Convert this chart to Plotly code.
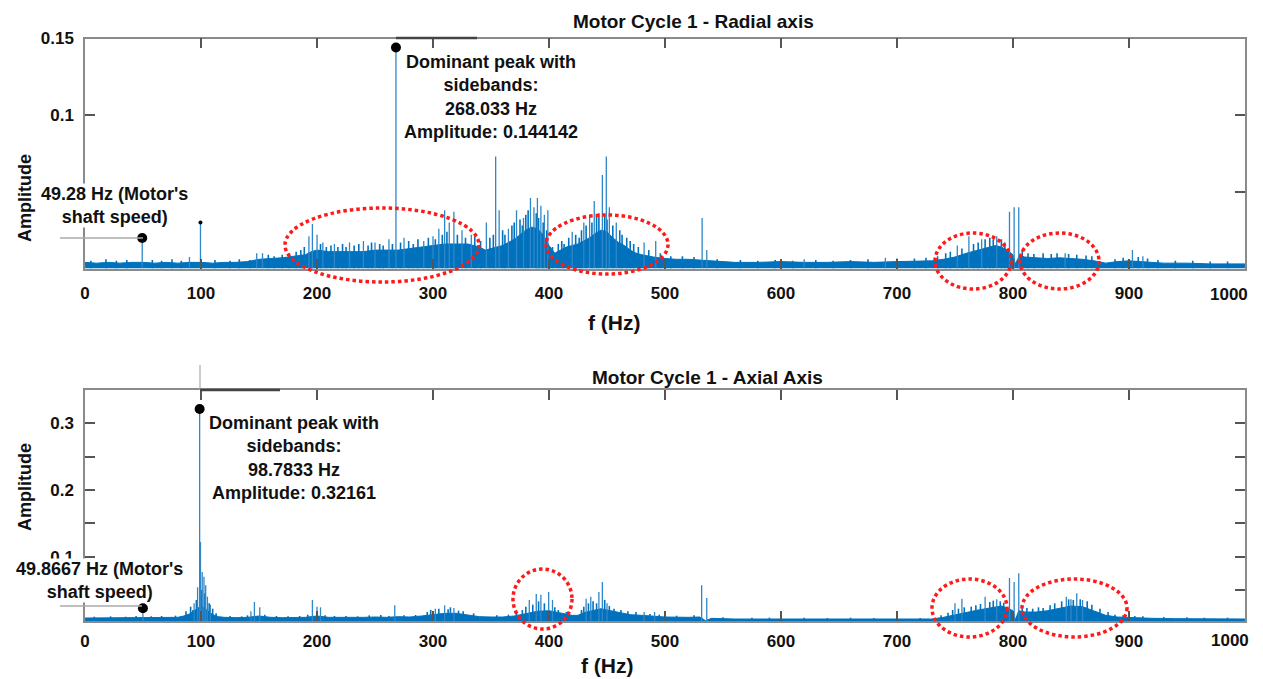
import plotly.graph_objects as go

W, H = 1263, 679
BLUE = "#0072BD"
FONT = "Liberation Sans"

# ---------------- Radial axis (top) ----------------
radial_band_f = [0, 10, 20, 30, 40, 50, 60, 70, 80, 90, 100, 110, 120, 130, 140, 150, 160, 170, 180, 190,
                 195, 200, 210, 220, 230, 240, 250, 260, 270, 280, 290, 300, 310, 320, 330, 340, 345, 350,
                 360, 365, 370, 375, 380, 385, 390, 395, 400, 405, 410, 415, 420, 425, 430, 435, 440, 445,
                 450, 455, 460, 465, 470, 475, 480, 490, 500, 510, 520, 530, 540, 550, 560, 580, 600, 620,
                 640, 660, 680, 700, 720, 730, 740, 750, 760, 770, 780, 785, 790, 795, 800, 802, 806, 810,
                 820, 830, 840, 850, 860, 870, 880, 890, 900, 910, 920, 930, 950, 970, 1000]
radial_band_amp = [0.004, 0.0035, 0.004, 0.0035, 0.004, 0.004, 0.0035, 0.004, 0.0035, 0.004, 0.004, 0.0035,
                   0.004, 0.004, 0.0045, 0.006, 0.0065, 0.007, 0.008, 0.009, 0.011, 0.012, 0.011, 0.011,
                   0.011, 0.011, 0.012, 0.012, 0.012, 0.013, 0.014, 0.015, 0.016, 0.016, 0.016, 0.014,
                   0.012, 0.013, 0.015, 0.017, 0.019, 0.022, 0.025, 0.027, 0.026, 0.022, 0.015, 0.010,
                   0.012, 0.014, 0.015, 0.016, 0.018, 0.020, 0.023, 0.025, 0.024, 0.020, 0.017, 0.015,
                   0.012, 0.010, 0.009, 0.0075, 0.0065, 0.006, 0.006, 0.0055, 0.005, 0.0045, 0.004, 0.004,
                   0.0045, 0.004, 0.004, 0.0045, 0.004, 0.0045, 0.005, 0.005, 0.006, 0.0075, 0.010, 0.012,
                   0.014, 0.015, 0.014, 0.012, 0.009, 0.003, 0.009, 0.0075, 0.007, 0.0065, 0.007, 0.0065,
                   0.006, 0.005, 0.0035, 0.0045, 0.005, 0.0045, 0.004, 0.0035, 0.0035, 0.003, 0.003]
radial_peak_f = [49.28, 90, 99.5, 148, 153, 193, 196, 200, 205, 215, 228, 240, 250, 262, 268.033, 275,
                 292, 300, 305, 310, 314, 318, 325, 333, 346, 354, 357, 365, 372, 378, 384, 387, 390, 393,
                 396, 399, 420, 430, 435, 439, 446, 449.4, 452, 458, 482, 492, 532, 536, 620, 690, 752,
                 762, 773, 786, 797, 801, 805, 845, 903, 912]
radial_peak_amp = [0.019, 0.0075, 0.030, 0.010, 0.010, 0.021, 0.029, 0.022, 0.017, 0.016, 0.017, 0.018,
                   0.017, 0.019, 0.144142, 0.020, 0.018, 0.021, 0.026, 0.038, 0.030, 0.037, 0.025, 0.022,
                   0.030, 0.073, 0.038, 0.026, 0.038, 0.033, 0.046, 0.040, 0.046, 0.041, 0.035, 0.038,
                   0.024, 0.030, 0.035, 0.044, 0.061, 0.073, 0.040, 0.030, 0.017, 0.018, 0.033, 0.012,
                   0.006, 0.007, 0.015, 0.021, 0.019, 0.021, 0.037, 0.040, 0.040, 0.010, 0.012, 0.008]
radial_minor_f = [5, 18, 27, 36, 58, 66, 75, 83, 112, 125, 133, 142, 158, 163, 170, 176, 182, 186, 189,
                  203, 208, 212, 218, 222, 225, 232, 236, 244, 247, 254, 257, 265, 272, 279, 283, 287, 296,
                  302, 308, 312, 321, 328, 336, 341, 349, 352, 360, 362, 368, 370, 375, 377, 380, 382, 389,
                  391, 395, 398, 403, 408, 411, 413, 417, 423, 426, 428, 432, 437, 441, 443, 448, 450, 455,
                  461, 463, 467, 470, 473, 477, 486, 496, 505, 515, 525, 545, 565, 580, 595, 610, 630, 645,
                  660, 675, 700, 715, 725, 735, 742, 746, 756, 766, 770, 776, 780, 783, 790, 793, 808, 813,
                  818, 826, 833, 838, 848, 855, 863, 868, 888, 895, 908, 916, 925, 940, 955, 970, 985]
radial_minor_amp = [0.005, 0.006, 0.005, 0.0055, 0.0055, 0.005, 0.006, 0.005, 0.0055, 0.005, 0.006, 0.0055,
                    0.009, 0.008, 0.009, 0.010, 0.011, 0.012, 0.014, 0.016, 0.014, 0.015, 0.014, 0.016,
                    0.014, 0.015, 0.016, 0.015, 0.017, 0.016, 0.015, 0.016, 0.017, 0.018, 0.016, 0.019,
                    0.020, 0.019, 0.022, 0.024, 0.022, 0.020, 0.021, 0.018, 0.020, 0.022, 0.025, 0.022,
                    0.028, 0.030, 0.032, 0.028, 0.035, 0.038, 0.036, 0.033, 0.030, 0.025, 0.014, 0.016,
                    0.018, 0.016, 0.020, 0.022, 0.020, 0.025, 0.028, 0.030, 0.034, 0.036, 0.035, 0.032,
                    0.028, 0.025, 0.022, 0.020, 0.018, 0.016, 0.014, 0.012, 0.010, 0.008, 0.008, 0.0075,
                    0.006, 0.0055, 0.005, 0.0055, 0.005, 0.0055, 0.005, 0.0055, 0.006, 0.0065, 0.0065,
                    0.007, 0.008, 0.010, 0.011, 0.013, 0.016, 0.017, 0.019, 0.020, 0.019, 0.019, 0.017,
                    0.012, 0.010, 0.0095, 0.010, 0.0095, 0.010, 0.0095, 0.009, 0.0085, 0.008, 0.006,
                    0.007, 0.0075, 0.0065, 0.0055, 0.005, 0.005, 0.0045, 0.0045]
radial_tip_f = [49.28, 268.033]
radial_tip_amp = [0.0199, 0.144142]

# ---------------- Axial axis (bottom) ----------------
axial_band_f = [0, 10, 20, 30, 40, 50, 60, 70, 80, 85, 90, 95, 100, 105, 110, 115, 120, 130, 140, 150, 160,
                170, 180, 190, 200, 210, 220, 230, 240, 250, 260, 270, 280, 290, 300, 310, 320, 330, 340,
                350, 360, 370, 380, 390, 400, 410, 420, 425, 430, 440, 445, 450, 460, 470, 480, 490, 500,
                520, 530, 535, 540, 560, 600, 650, 700, 730, 740, 750, 760, 770, 780, 790, 795, 800, 802,
                805, 810, 820, 830, 840, 850, 860, 870, 880, 890, 900, 910, 920, 940, 960, 980, 1000]
axial_band_amp = [0.008, 0.008, 0.0085, 0.008, 0.0085, 0.009, 0.0085, 0.009, 0.009, 0.011, 0.014, 0.020,
                  0.026, 0.020, 0.013, 0.010, 0.009, 0.0085, 0.009, 0.011, 0.009, 0.0085, 0.0085, 0.009,
                  0.011, 0.009, 0.009, 0.0085, 0.009, 0.0095, 0.009, 0.010, 0.0095, 0.011, 0.013, 0.015,
                  0.015, 0.012, 0.010, 0.0095, 0.0095, 0.011, 0.015, 0.018, 0.019, 0.015, 0.012, 0.012,
                  0.016, 0.020, 0.022, 0.020, 0.016, 0.013, 0.012, 0.011, 0.0095, 0.009, 0.0095, 0.004,
                  0.0075, 0.0065, 0.0065, 0.0065, 0.007, 0.0065, 0.009, 0.013, 0.016, 0.020, 0.023, 0.026,
                  0.023, 0.019, 0.005, 0.019, 0.017, 0.017, 0.019, 0.023, 0.026, 0.025, 0.018, 0.012,
                  0.0095, 0.0085, 0.008, 0.0075, 0.007, 0.0065, 0.0065, 0.0065]
axial_peak_f = [49.8667, 94, 97, 98.7833, 99.5, 101, 102.5, 104, 105.5, 108, 143, 146, 150.6, 196, 200,
                203, 267, 302, 310, 318, 383, 389, 393, 399.7, 403, 432, 436, 443, 446, 450, 482, 491,
                531.6, 536, 750, 756, 776, 786, 797, 801, 805, 846, 850, 855, 860]
axial_peak_amp = [0.015, 0.030, 0.054, 0.32161, 0.122, 0.077, 0.070, 0.057, 0.040, 0.028, 0.018, 0.032,
                  0.024, 0.035, 0.025, 0.024, 0.027, 0.022, 0.027, 0.023, 0.035, 0.044, 0.043, 0.047,
                  0.035, 0.037, 0.040, 0.047, 0.062, 0.030, 0.017, 0.017, 0.057, 0.038, 0.030, 0.037,
                  0.040, 0.036, 0.068, 0.062, 0.075, 0.040, 0.036, 0.045, 0.035]
axial_minor_f = [8, 22, 35, 44, 57, 66, 78, 87, 91, 93, 96, 100.5, 103, 107, 110, 113, 125, 135, 140, 155,
                 165, 175, 185, 192, 207, 215, 225, 235, 245, 255, 262, 275, 285, 295, 298, 305, 313, 315,
                 322, 326, 335, 355, 365, 372, 377, 380, 386, 391, 396, 405, 408, 415, 428, 430, 434, 438,
                 441, 448, 452, 456, 462, 468, 475, 487, 495, 510, 525, 550, 575, 590, 620, 640, 660, 680,
                 700, 720, 738, 744, 748, 753, 758, 764, 768, 772, 780, 783, 789, 792, 808, 812, 817, 822,
                 826, 832, 836, 842, 848, 852, 858, 864, 868, 875, 882, 888, 895, 905, 912, 930, 950, 965,
                 985]
axial_minor_amp = [0.010, 0.0105, 0.010, 0.011, 0.0105, 0.011, 0.0115, 0.018, 0.025, 0.020, 0.035, 0.050,
                   0.045, 0.030, 0.022, 0.015, 0.011, 0.0105, 0.012, 0.013, 0.011, 0.0105, 0.011, 0.013,
                   0.012, 0.011, 0.011, 0.0105, 0.012, 0.0125, 0.011, 0.012, 0.0125, 0.017, 0.020, 0.022,
                   0.021, 0.024, 0.019, 0.018, 0.015, 0.012, 0.013, 0.016, 0.020, 0.025, 0.028, 0.033,
                   0.030, 0.024, 0.020, 0.017, 0.020, 0.025, 0.030, 0.033, 0.030, 0.035, 0.026, 0.022,
                   0.020, 0.018, 0.017, 0.014, 0.013, 0.0115, 0.012, 0.009, 0.0085, 0.0085, 0.0085, 0.008,
                   0.0085, 0.008, 0.0095, 0.008, 0.012, 0.016, 0.020, 0.022, 0.024, 0.025, 0.027, 0.029,
                   0.032, 0.034, 0.033, 0.031, 0.025, 0.023, 0.022, 0.024, 0.023, 0.027, 0.030, 0.033,
                   0.036, 0.035, 0.036, 0.033, 0.028, 0.022, 0.017, 0.013, 0.012, 0.011, 0.0105, 0.0095,
                   0.009, 0.0085, 0.0085]
axial_tip_f = [49.8667, 98.7833]
axial_tip_amp = [0.0225, 0.32161]

x_ticks = [0, 100, 200, 300, 400, 500, 600, 700, 800, 900, 1000]
x_ticktext = ["0", "100", "200", "300", "400", "500", "600", "700", "800", "900", ""]
x_last_label = "1000"
radial_yticks = [0.05, 0.1, 0.15]
radial_yticktext = ["", "0.1", "0.15"]
axial_yticks = [0.05, 0.1, 0.15, 0.2, 0.25, 0.3, 0.35]
axial_yticktext = ["", "0.1", "", "0.2", "", "0.3", ""]


def spikes(fs, amps, base):
    xs, ys = [], []
    for f, a in zip(fs, amps):
        xs += [f, f, None]
        ys += [base, a, None]
    return xs, ys


fig = go.Figure()
for band_f, band_a, mn_f, mn_a, pk_f, pk_a, tip_f, tip_a, xa, ya in [
    (radial_band_f, radial_band_amp, radial_minor_f, radial_minor_amp, radial_peak_f, radial_peak_amp,
     radial_tip_f, radial_tip_amp, "x", "y"),
    (axial_band_f, axial_band_amp, axial_minor_f, axial_minor_amp, axial_peak_f, axial_peak_amp,
     axial_tip_f, axial_tip_amp, "x2", "y2"),
]:
    fig.add_trace(go.Scatter(x=band_f, y=band_a, mode="lines", fill="tozeroy", fillcolor=BLUE,
                             line=dict(color=BLUE, width=1), xaxis=xa, yaxis=ya, hoverinfo="skip"))
    mx, my = spikes(mn_f, mn_a, 0.0)
    fig.add_trace(go.Scatter(x=mx, y=my, mode="lines", line=dict(color=BLUE, width=1.6),
                             xaxis=xa, yaxis=ya, hoverinfo="skip"))
    sx, sy = spikes(pk_f, pk_a, 0.0)
    fig.add_trace(go.Scatter(x=sx, y=sy, mode="lines", line=dict(color="#2f86c8", width=1.3),
                             xaxis=xa, yaxis=ya, hoverinfo="skip"))
    fig.add_trace(go.Scatter(x=tip_f, y=tip_a, mode="markers", marker=dict(color="black", size=10),
                             xaxis=xa, yaxis=ya, cliponaxis=False, hoverinfo="skip"))

# small datatip dot at 100 Hz on radial plot
fig.add_trace(go.Scatter(x=[99.5], y=[0.030], mode="markers", marker=dict(color="black", size=4),
                         xaxis="x", yaxis="y", hoverinfo="skip"))

xdom = [85 / W, 1245 / W]
axis_common = dict(showgrid=False, zeroline=False, showline=True, linecolor="#8a8a8a", linewidth=1.5,
                   mirror="ticks", ticks="inside", ticklen=10, tickcolor="#555", tickwidth=1.5,
                   automargin=False,
                   tickfont=dict(family=FONT, size=17, color="#111", weight="bold"))
fig.update_layout(
    width=W, height=H, margin=dict(l=0, r=0, t=0, b=0, autoexpand=False),
    paper_bgcolor="white", plot_bgcolor="white", showlegend=False,
    xaxis=dict(domain=xdom, range=[-0.05, 1000.05], tickvals=x_ticks, ticktext=x_ticktext, anchor="y",
               ticklabelstandoff=8, **axis_common),
    yaxis=dict(domain=[1 - 268.5 / H, 1 - 38.5 / H], range=[0, 0.15], tickvals=radial_yticks,
               ticktext=radial_yticktext, anchor="x", ticklabelstandoff=6, **axis_common),
    xaxis2=dict(domain=xdom, range=[-0.05, 1000.05], tickvals=x_ticks, ticktext=x_ticktext, anchor="y2",
                ticklabelstandoff=4, **axis_common),
    yaxis2=dict(domain=[1 - 621 / H, 1 - 390 / H], range=[0.0035, 0.35], tickvals=axial_yticks,
                ticktext=axial_yticktext, anchor="x2", ticklabelstandoff=6, **axis_common),
)


def px(x):
    return x / W


def py(y):
    return 1 - y / H


def text_ann(x, y, text, size, rot=0, bg=None):
    d = dict(x=px(x), y=py(y), xref="paper", yref="paper", text=text, showarrow=False,
             font=dict(family=FONT, size=size, color="#111"), textangle=rot,
             xanchor="center", yanchor="middle")
    if bg:
        d.update(bgcolor=bg, borderpad=0)
    fig.add_annotation(**d)


B = lambda s: "<b>" + s + "</b>"
text_ann(693, 22, B("Motor Cycle 1 - Radial axis"), 19)
text_ann(707, 377, B("Motor Cycle 1 - Axial Axis"), 19)
text_ann(614, 322, B("f (Hz)"), 21)
text_ann(607, 665, B("f (Hz)"), 21)
text_ann(25, 198, B("Amplitude"), 18, rot=-90)
text_ann(25, 487, B("Amplitude"), 18, rot=-90)
# last x tick label sits just inside the right edge in the reference
text_ann(1229, 294, B(x_last_label), 17)
text_ann(1230, 640, B(x_last_label), 17)

text_ann(115, 205, B("49.28 Hz (Motor's<br>shaft speed)"), 18, bg="white")
text_ann(491, 97, B("Dominant peak with<br>sidebands:<br>268.033 Hz<br>Amplitude: 0.144142"), 18, bg="white")
text_ann(99, 580, B("49.8667 Hz (Motor's<br>shaft speed)"), 18, bg="white")
text_ann(294, 458, B("Dominant peak with<br>sidebands:<br>98.7833 Hz<br>Amplitude: 0.32161"), 18, bg="white")

# datatip pointer lines
for (x0, y0, x1, y1, c, w) in [(60, 238, 143, 238, "#aaaaaa", 1.5), (396, 38, 477, 38, "#444444", 2.5),
                               (60, 606, 142, 606, "#aaaaaa", 1.5), (200, 365, 200, 390, "#aaaaaa", 1.2),
                               (200, 390, 280, 390, "#444444", 2.5)]:
    fig.add_shape(type="line", xref="paper", yref="paper", x0=px(x0), y0=py(y0), x1=px(x1), y1=py(y1),
                  line=dict(color=c, width=w))

# red dotted ellipses highlighting sideband regions
for (x0, y0, x1, y1) in [(285, 208, 479, 282), (546, 215, 668, 274), (935, 233, 1011, 289),
                         (1020, 233, 1099, 289), (513, 569, 572, 629), (932, 579, 1007, 637),
                         (1022, 579, 1127, 637)]:
    fig.add_shape(type="circle", xref="paper", yref="paper", x0=px(x0), y0=py(y1), x1=px(x1), y1=py(y0),
                  line=dict(color="#ff1a1a", width=3.5, dash="3.5px,3px"))

fig.write_html("out.html")
